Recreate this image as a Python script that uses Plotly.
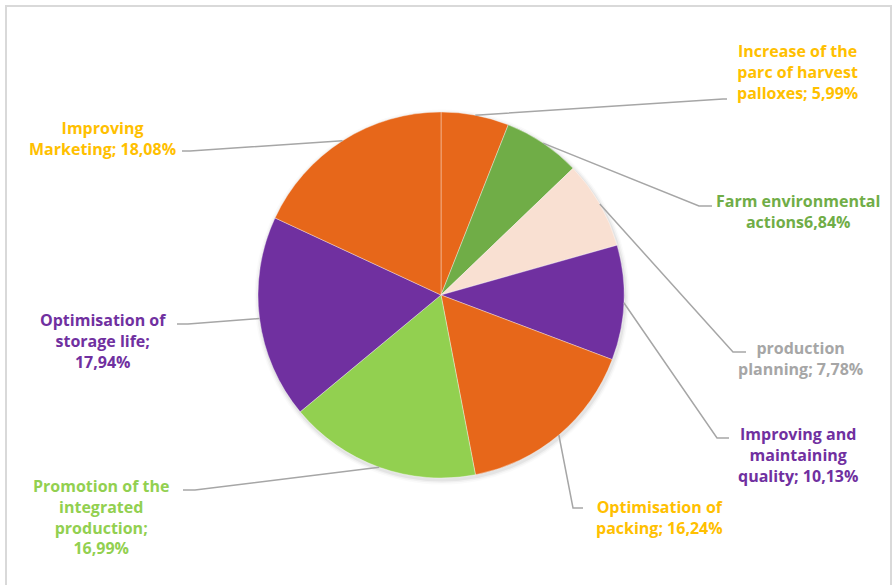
import math
import plotly.graph_objects as go

# Share of each action (%)
categories = [
    "Increase of the parc of harvest palloxes",
    "Farm environmental actions",
    "production planning",
    "Improving and maintaining quality",
    "Optimisation of packing",
    "Promotion of the integrated production",
    "Optimisation of storage life",
    "Improving Marketing",
]
values = [5.99, 6.84, 7.78, 10.13, 16.24, 16.99, 17.94, 18.08]
value_labels = ["5,99%", "6,84%", "7,78%", "10,13%", "16,24%", "16,99%", "17,94%", "18,08%"]

slice_colors = ["#E7671A", "#70AD47", "#F9E0D2", "#7030A0",
                "#E7671A", "#92D050", "#7030A0", "#E7671A"]
label_colors = ["#FFC000", "#70AD47", "#A6A6A6", "#7030A0",
                "#FFC000", "#92D050", "#7030A0", "#FFC000"]

# Label text lines (the value is appended to the last line)
label_lines = [
    ["Increase of the", "parc of harvest", "palloxes; {v}"],
    ["Farm environmental", "actions{v}"],
    ["production", "planning; {v}"],
    ["Improving and", "maintaining", "quality; {v}"],
    ["Optimisation of", "packing; {v}"],
    ["Promotion of the", "integrated", "production;", "{v}"],
    ["Optimisation of", "storage life;", "{v}"],
    ["Improving", "Marketing; {v}"],
]

W, H = 896, 585
CX, CY, R = 441, 295, 183  # pie centre and radius in pixels

# label block centres (px) and leader elbow / end points (px)
label_pos = [(797, 72), (798, 211), (800, 358), (798, 455),
             (659, 517), (101, 517), (103, 341), (102, 138)]
elbows = [(723, 99), (699, 206), (733, 352), (717, 438),
          (573, 508), (195, 490), (188, 324), (190, 151)]
ends = [(727, 99), (712, 206), (746, 352), (729, 438),
        (583, 508), (183, 490), (177, 324), (182, 151)]


def px(x):
    return x / W


def py(y):
    return 1 - y / H


fig = go.Figure()
fig.add_trace(go.Pie(
    labels=categories,
    values=values,
    sort=False,
    direction="clockwise",
    rotation=0,
    textinfo="none",
    hoverinfo="label+percent",
    marker=dict(colors=slice_colors, line=dict(color="rgba(255,255,255,0.45)", width=0.8)),
    domain=dict(x=[px(CX - R), px(CX + R)], y=[py(CY + R), py(CY - R)]),
    showlegend=False,
))

shapes = []
# soft shadow around the pie
for i, a in enumerate([0.05, 0.035, 0.02]):
    rr = R + 1.5 + i * 1.5
    shapes.append(dict(type="circle", xref="paper", yref="paper", layer="below",
                       x0=px(CX - rr + 1), x1=px(CX + rr + 1),
                       y0=py(CY + rr + 2), y1=py(CY - rr + 2),
                       fillcolor=f"rgba(0,0,0,{a})", line=dict(width=0)))

# chart frame
shapes.append(dict(type="rect", xref="paper", yref="paper", layer="below",
                   x0=px(6), x1=px(891), y0=py(H + 20), y1=py(6),
                   line=dict(color="#D9D9D9", width=2), fillcolor="rgba(0,0,0,0)"))

annotations = []
total = sum(values)
cum = 0.0
for i, v in enumerate(values):
    mid = (cum + v / 2) / total * 2 * math.pi
    cum += v
    sx = CX + R * math.sin(mid)
    sy = CY - R * math.cos(mid)
    ex, ey = elbows[i]
    fx, fy = ends[i]
    shapes.append(dict(type="path", xref="paper", yref="paper",
                       path=f"M {px(sx)},{py(sy)} L {px(ex)},{py(ey)} L {px(fx)},{py(fy)}",
                       line=dict(color="#A6A6A6", width=1.5)))
    text = "<br>".join(label_lines[i]).format(v=value_labels[i])
    lx, ly = label_pos[i]
    annotations.append(dict(x=px(lx), y=py(ly), xref="paper", yref="paper",
                            text=f"<b>{text}</b>", showarrow=False,
                            xanchor="center", yanchor="middle", align="center",
                            font=dict(family="Open Sans", size=16, color=label_colors[i])))

fig.update_layout(
    width=W, height=H,
    margin=dict(l=0, r=0, t=0, b=0),
    paper_bgcolor="white",
    plot_bgcolor="white",
    shapes=shapes,
    annotations=annotations,
)

fig.write_html("out.html")
